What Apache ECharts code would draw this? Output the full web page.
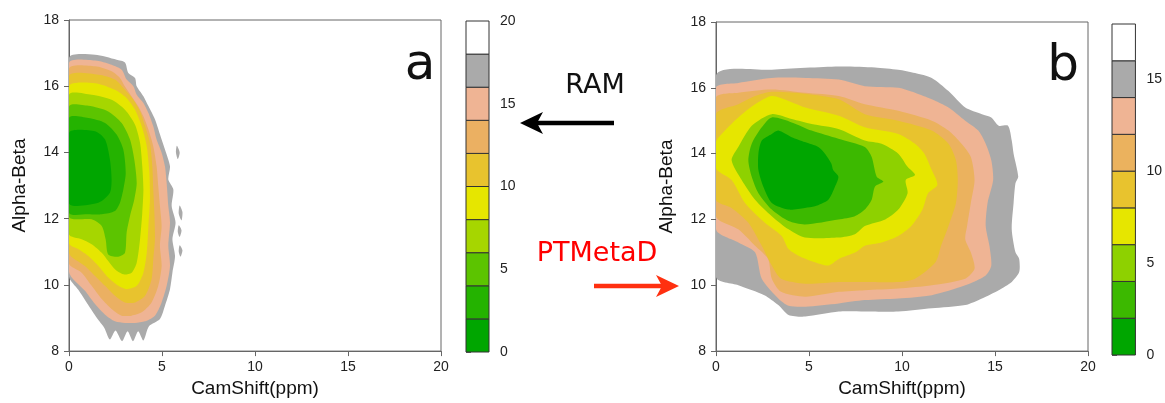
<!DOCTYPE html>
<html><head><meta charset="utf-8">
<script src="https://cdn.jsdelivr.net/npm/echarts@6/dist/echarts.min.js"></script>
<style>html,body{margin:0;padding:0;background:#fff}#c{width:1165px;height:403px}</style>
</head><body><div id="c"></div>
<script>
// ---------- data ----------
const xTicks = [0, 5, 10, 15, 20];          // CamShift(ppm)
const yTicks = [8, 10, 12, 14, 16, 18];     // Alpha-Beta
const levelsA = [0, 2, 4, 6, 8, 10, 12, 14, 16, 18, 20];
const levelsB = [0, 2, 4, 6, 8, 10, 12, 14, 16, 18];
const barTicksA = [0, 5, 10, 15, 20];
const barTicksB = [0, 5, 10, 15];

// panel a (RAM) : region boundaries F < level
const a18 = [[0,16.85],[1.4,16.95],[2.56,16.8],[3.01,16.72],[3.19,16.4],[3.55,16.25],[3.64,16.0],[4.0,15.7],[4.27,15.4],[4.62,15.0],[4.98,14.39],[5.16,14.09],[5.43,13.58],[5.34,13.18],[5.61,12.88],[5.52,12.38],[5.73,11.88],[5.56,11.38],[5.7,10.87],[5.56,10.37],[5.43,9.87],[5.16,9.37],[4.89,8.97],[4.3,8.75],[4.0,8.32],[3.72,8.6],[3.44,8.3],[3.15,8.6],[2.85,8.3],[2.5,8.62],[2.2,8.35],[1.9,8.7],[1.5,9.0],[1.0,9.42],[0.5,9.85],[0,10.25]];
const a18b1 = [[5.8,14.2],[5.95,14.0],[5.85,13.8],[5.75,14.0]];
const a18b2 = [[5.95,12.4],[6.1,12.2],[6.05,11.95],[5.9,12.15]];
const a18b3 = [[5.9,11.8],[6.05,11.65],[5.95,11.45],[5.85,11.6]];
const a18b4 = [[5.95,11.2],[6.1,11.05],[6.0,10.85],[5.9,11.0]];
const a16 = [[0,16.7],[1.4,16.78],[2.29,16.65],[2.83,16.5],[3.1,16.2],[3.46,16.0],[3.64,15.74],[4.0,15.49],[4.27,15.19],[4.53,14.79],[4.71,14.39],[4.98,13.99],[5.16,13.58],[5.25,13.08],[5.34,12.38],[5.43,11.88],[5.34,11.18],[5.43,10.57],[5.25,9.97],[4.98,9.47],[4.62,9.07],[4.09,8.9],[3.55,8.85],[3.01,8.85],[2.47,8.9],[1.94,9.1],[1.4,9.42],[0.86,9.82],[0,10.4]];
const a14 = [[0,16.52],[1.4,16.6],[2.29,16.45],[2.74,16.25],[3.01,15.99],[3.37,15.69],[3.73,15.39],[4.0,15.09],[4.27,14.69],[4.53,14.19],[4.71,13.58],[4.8,12.98],[4.89,12.38],[4.98,11.78],[4.89,11.18],[4.98,10.57],[4.8,9.97],[4.44,9.47],[3.91,9.17],[3.37,9.07],[2.83,9.07],[2.29,9.27],[1.76,9.57],[1.22,9.97],[0.68,10.37],[0,10.65]];
const a12 = [[0,16.3],[1.58,16.35],[2.47,16.2],[3.01,15.89],[3.46,15.59],[3.82,15.24],[4.09,14.79],[4.35,14.29],[4.48,13.58],[4.53,12.88],[4.59,12.18],[4.62,11.38],[4.53,10.77],[4.44,10.17],[4.09,9.67],[3.55,9.47],[3.01,9.47],[2.47,9.67],[1.94,9.97],[1.4,10.27],[0.86,10.57],[0,10.97]];
const a10 = [[0,15.99],[1.4,16.09],[2.47,15.89],[3.1,15.64],[3.55,15.29],[3.91,14.79],[4.18,14.19],[4.32,13.38],[4.35,12.58],[4.27,11.78],[4.18,10.97],[4.0,10.37],[3.64,9.97],[3.1,9.87],[2.65,9.97],[2.11,10.22],[1.58,10.57],[1.04,10.87],[0.5,11.08],[0,11.26]];
const a8 = [[0,15.74],[1.22,15.74],[2.29,15.59],[3.01,15.29],[3.55,14.84],[3.82,14.29],[3.94,13.58],[4.0,12.88],[3.94,12.18],[3.82,11.38],[3.64,10.67],[3.37,10.37],[2.92,10.32],[2.47,10.47],[2.11,10.72],[1.76,10.97],[1.22,11.23],[0.68,11.38],[0,11.53]];
const a6 = [[0,15.39],[1.04,15.41],[2.11,15.24],[2.83,14.89],[3.28,14.39],[3.51,13.79],[3.64,13.08],[3.51,12.58],[3.28,12.08],[3.1,11.58],[3.01,10.97],[2.65,10.85],[2.11,10.92],[1.97,11.38],[1.76,11.78],[1.22,11.98],[0,12.06]];
const a4 = [[0,15.04],[1.04,15.04],[1.94,14.89],[2.56,14.54],[2.92,14.09],[3.05,13.38],[2.92,12.88],[2.74,12.48],[2.47,12.23],[1.76,12.13],[1.04,12.13],[0,12.18]];
const a2 = [[0,14.59],[1.4,14.64],[1.94,14.39],[2.2,13.79],[2.29,13.18],[2.2,12.78],[1.58,12.48],[0,12.46]];

// panel b (PTMetaD)
const b16 = [[0,16.38],[3.0,16.55],[6.6,16.65],[8.55,16.62],[9.8,16.55],[10.7,16.45],[11.6,16.3],[12.5,15.9],[13.4,15.4],[14.3,15.2],[14.8,15.1],[15.2,14.85],[15.7,14.85],[15.9,14.4],[16.0,14.0],[16.25,13.3],[16.1,13.1],[16.0,12.5],[15.9,11.7],[16.1,11.0],[16.3,10.8],[16.3,10.4],[15.9,10.1],[15.2,9.85],[14.3,9.6],[13.4,9.4],[11.6,9.3],[9.8,9.2],[8.0,9.2],[6.6,9.2],[4.8,9.05],[3.9,9.1],[3.35,9.4],[2.6,9.7],[1.2,10.0],[0,10.25]];
const b14 = [[0,16.0],[1.2,16.15],[3.0,16.3],[4.8,16.3],[6.6,16.25],[8.0,16.05],[9.8,16.0],[10.7,15.85],[11.6,15.65],[12.5,15.4],[13.4,15.0],[14.1,14.7],[14.5,14.3],[14.8,13.8],[14.9,13.2],[14.6,12.5],[14.5,11.8],[14.7,11.2],[14.8,10.6],[14.5,10.3],[13.4,10.0],[11.6,9.7],[9.8,9.6],[8.0,9.55],[6.6,9.45],[4.8,9.35],[3.9,9.38],[3.35,9.6],[2.46,10.2],[2.1,11.0],[1.2,11.3],[0,11.7]];
const b12 = [[0,15.7],[1.2,15.85],[3.0,15.95],[4.8,15.85],[6.6,15.75],[8.0,15.5],[9.8,15.3],[11.6,15.0],[12.5,14.7],[13.2,14.3],[13.7,13.9],[13.9,13.2],[13.7,12.5],[13.5,11.8],[13.4,11.4],[13.7,11.0],[13.9,10.5],[13.4,10.2],[11.6,10.0],[9.8,9.9],[8.0,9.85],[6.6,9.8],[4.8,9.65],[3.5,9.8],[3.0,10.2],[2.8,10.8],[2.1,11.2],[1.2,11.7],[0,12.1]];
const b10 = [[0,15.2],[1.2,15.5],[2.1,15.75],[3.0,15.88],[4.8,15.82],[6.6,15.65],[8.0,15.2],[9.8,15.0],[11.6,14.7],[12.5,14.3],[12.9,13.8],[13.0,13.2],[12.9,12.5],[12.5,11.8],[12.1,11.2],[11.8,10.7],[10.7,10.2],[9.8,10.1],[8.0,10.1],[6.6,10.1],[4.8,10.05],[3.5,10.2],[3.0,10.6],[2.46,11.2],[1.74,11.9],[0.84,12.35],[0,12.6]];
const b8 = [[0,14.35],[0.48,14.7],[1.2,15.1],[2.1,15.5],[3.0,15.75],[3.9,15.6],[4.8,15.4],[6.6,15.15],[8.0,14.8],[9.8,14.6],[10.7,14.3],[11.2,14.0],[11.6,13.5],[11.9,13.05],[11.4,12.8],[11.1,12.3],[10.5,11.8],[9.8,11.5],[8.9,11.3],[8.0,11.2],[7.5,11.0],[6.6,10.8],[6.04,10.6],[5.32,10.7],[4.43,10.9],[3.9,11.1],[3.53,11.5],[2.63,11.9],[1.56,12.5],[0.84,13.2],[0,13.55]];
const b6 = [[0.84,13.8],[1.2,14.2],[1.92,14.85],[3.0,15.2],[4.07,15.05],[5.14,14.9],[6.58,14.75],[8.0,14.4],[8.9,14.3],[9.8,14.0],[10.3,13.6],[10.7,13.35],[10.2,13.2],[10.3,12.8],[9.8,12.3],[9.1,12.0],[8.0,11.8],[7.47,11.55],[6.58,11.45],[4.78,11.45],[3.9,11.7],[3.0,12.1],[2.1,12.6],[1.38,13.2]];
const b4 = [[1.74,13.8],[1.92,14.3],[2.46,14.8],[3.0,15.1],[4.07,14.95],[5.14,14.7],[6.58,14.45],[8.0,14.2],[8.37,13.9],[8.64,13.3],[9.0,13.15],[8.55,13.0],[8.37,12.6],[8.0,12.3],[7.47,12.1],[6.58,12.0],[4.78,11.85],[3.9,11.95],[3.0,12.3],[2.28,12.8],[1.92,13.3]];
const b2 = [[2.28,14.0],[2.46,14.4],[3.0,14.6],[3.35,14.7],[4.07,14.5],[4.78,14.35],[5.5,14.2],[5.86,14.0],[6.2,13.7],[6.3,13.5],[6.58,13.3],[6.4,13.0],[6.04,12.6],[5.32,12.4],[4.78,12.35],[3.9,12.3],[3.0,12.5],[2.54,13.0],[2.28,13.5]];

// region lists, outermost first: [upper level, shapes]
const regionsA = [[18,[a18,a18b1,a18b2,a18b3,a18b4]],[16,[a16]],[14,[a14]],[12,[a12]],[10,[a10]],[8,[a8]],[6,[a6]],[4,[a4]],[2,[a2]]];
const regionsB = [[16,[b16]],[14,[b14]],[12,[b12]],[10,[b10]],[8,[b8]],[6,[b6]],[4,[b4]],[2,[b2]]];

// ---------- styles ----------
const colorsA = ['#00A600','#24B300','#5CC400','#A6D600','#E6E600','#E8C32E','#EBB062','#EFB494','#AAAAAA','#FFFFFF'];
const colorsB = ['#00A600','#3CB900','#8ED100','#E6E600','#E8C32E','#EBB25E','#EFB494','#AAAAAA','#FFFFFF'];
const F = '"Liberation Sans", Arial, sans-serif';
const AX = '#666';

function contourSeries(gi, regions, colors) {
  return {
    type: 'custom', xAxisIndex: gi, yAxisIndex: gi, silent: true,
    data: regions.map((r, i) => [r[0], i]),
    encode: {x: 0, y: 1},
    renderItem: function (params, api) {
      const r = regions[params.dataIndex];
      const col = colors[r[0] / 2 - 1];
      const cs = params.coordSys;
      return {
        type: 'group',
        children: r[1].map(shape => ({
          type: 'polygon',
          shape: {points: shape.map(p => api.coord(p)), smooth: 0.25},
          style: {fill: col, stroke: null},
          clipPath: {type: 'rect', shape: {x: cs.x, y: cs.y, width: cs.width, height: cs.height}}
        }))
      };
    }
  };
}
function barSeries(gi, levels, colors) {
  const d = [];
  for (let i = 0; i < levels.length - 1; i++) d.push([0.5, levels[i], levels[i + 1], i]);
  return {
    type: 'custom', xAxisIndex: gi, yAxisIndex: gi, silent: true, data: d,
    encode: {x: 0, y: [1, 2]},
    renderItem: function (params, api) {
      const p0 = api.coord([0, api.value(1)]);
      const p1 = api.coord([1, api.value(2)]);
      return {type: 'rect', shape: {x: p0[0], y: p1[1], width: p1[0] - p0[0], height: p0[1] - p1[1]},
        style: {fill: colors[api.value(3)], stroke: '#333', lineWidth: 1}};
    }
  };
}
function panelX(gi) {
  return {gridIndex: gi, type: 'value', min: xTicks[0], max: xTicks[xTicks.length - 1], interval: xTicks[1] - xTicks[0],
    name: 'CamShift(ppm)', nameLocation: 'middle', nameGap: 27,
    nameTextStyle: {fontSize: 19, color: '#111', fontFamily: F},
    axisLine: {show: true, onZero: false, lineStyle: {color: AX, width: 1}},
    axisTick: {show: true, length: 5, lineStyle: {color: AX}},
    axisLabel: {fontSize: 14, color: '#222', fontFamily: F, margin: 9},
    splitLine: {show: false}};
}
function panelY(gi) {
  return {gridIndex: gi, type: 'value', min: yTicks[0], max: yTicks[yTicks.length - 1], interval: yTicks[1] - yTicks[0],
    name: 'Alpha-Beta', nameLocation: 'middle', nameGap: 40,
    nameTextStyle: {fontSize: 19, color: '#111', fontFamily: F},
    axisLine: {show: true, onZero: false, lineStyle: {color: AX, width: 1}},
    axisTick: {show: true, length: 5, lineStyle: {color: AX}},
    axisLabel: {fontSize: 14, color: '#222', fontFamily: F, margin: 10},
    splitLine: {show: false}};
}
function barX(gi) {
  return {gridIndex: gi, type: 'value', min: 0, max: 1, show: false};
}
function barY(gi, ticks, max) {
  return {gridIndex: gi, type: 'value', min: 0, max: max, interval: 5, position: 'right',
    axisLine: {show: false},
    axisTick: {show: true, length: 5, lineStyle: {color: AX}, customValues: ticks},
    axisLabel: {fontSize: 14, color: '#222', fontFamily: F, margin: 11, customValues: ticks},
    splitLine: {show: false}};
}

const chart = echarts.init(document.getElementById('c'), null, {renderer: 'canvas'});
chart.setOption({
  animation: false,
  backgroundColor: '#fff',
  grid: [
    {left: 69, top: 20, width: 372, height: 332, show: true, borderColor: AX, borderWidth: 1},
    {left: 466, top: 21, width: 23, height: 331},
    {left: 716, top: 22, width: 372, height: 333, show: true, borderColor: AX, borderWidth: 1},
    {left: 1112, top: 24, width: 24, height: 331}
  ],
  xAxis: [panelX(0), barX(1), panelX(2), barX(3)],
  yAxis: [panelY(0), barY(1, barTicksA, levelsA[levelsA.length - 1]), panelY(2), barY(3, barTicksB, levelsB[levelsB.length - 1])],
  series: [
    contourSeries(0, regionsA, colorsA),
    barSeries(1, levelsA, colorsA),
    contourSeries(2, regionsB, colorsB),
    barSeries(3, levelsB, colorsB)
  ],
  graphic: [
    {type: 'text', x: 420, y: 66, style: {text: 'a', font: '50px "DejaVu Sans"', fill: '#111', align: 'center', verticalAlign: 'middle'}},
    {type: 'text', x: 1063, y: 67, style: {text: 'b', font: '50px "DejaVu Sans"', fill: '#111', align: 'center', verticalAlign: 'middle'}},
    {type: 'text', x: 595, y: 86, style: {text: 'RAM', font: '27px "DejaVu Sans"', fill: '#111', align: 'center', verticalAlign: 'middle'}},
    {type: 'text', x: 597, y: 254, style: {text: 'PTMetaD', font: '27px "DejaVu Sans"', fill: '#ff0000', align: 'center', verticalAlign: 'middle'}},
    {type: 'line', shape: {x1: 614, y1: 123, x2: 536, y2: 123}, style: {stroke: '#000', lineWidth: 4.5}},
    {type: 'polygon', shape: {points: [[520, 123], [543, 112], [537, 123], [543, 134]]}, style: {fill: '#000'}},
    {type: 'line', shape: {x1: 594, y1: 286, x2: 664, y2: 286}, style: {stroke: '#ff3010', lineWidth: 4.5}},
    {type: 'polygon', shape: {points: [[679, 286], [656, 275], [662, 286], [656, 297]]}, style: {fill: '#ff3010'}}
  ]
});
</script></body></html>
